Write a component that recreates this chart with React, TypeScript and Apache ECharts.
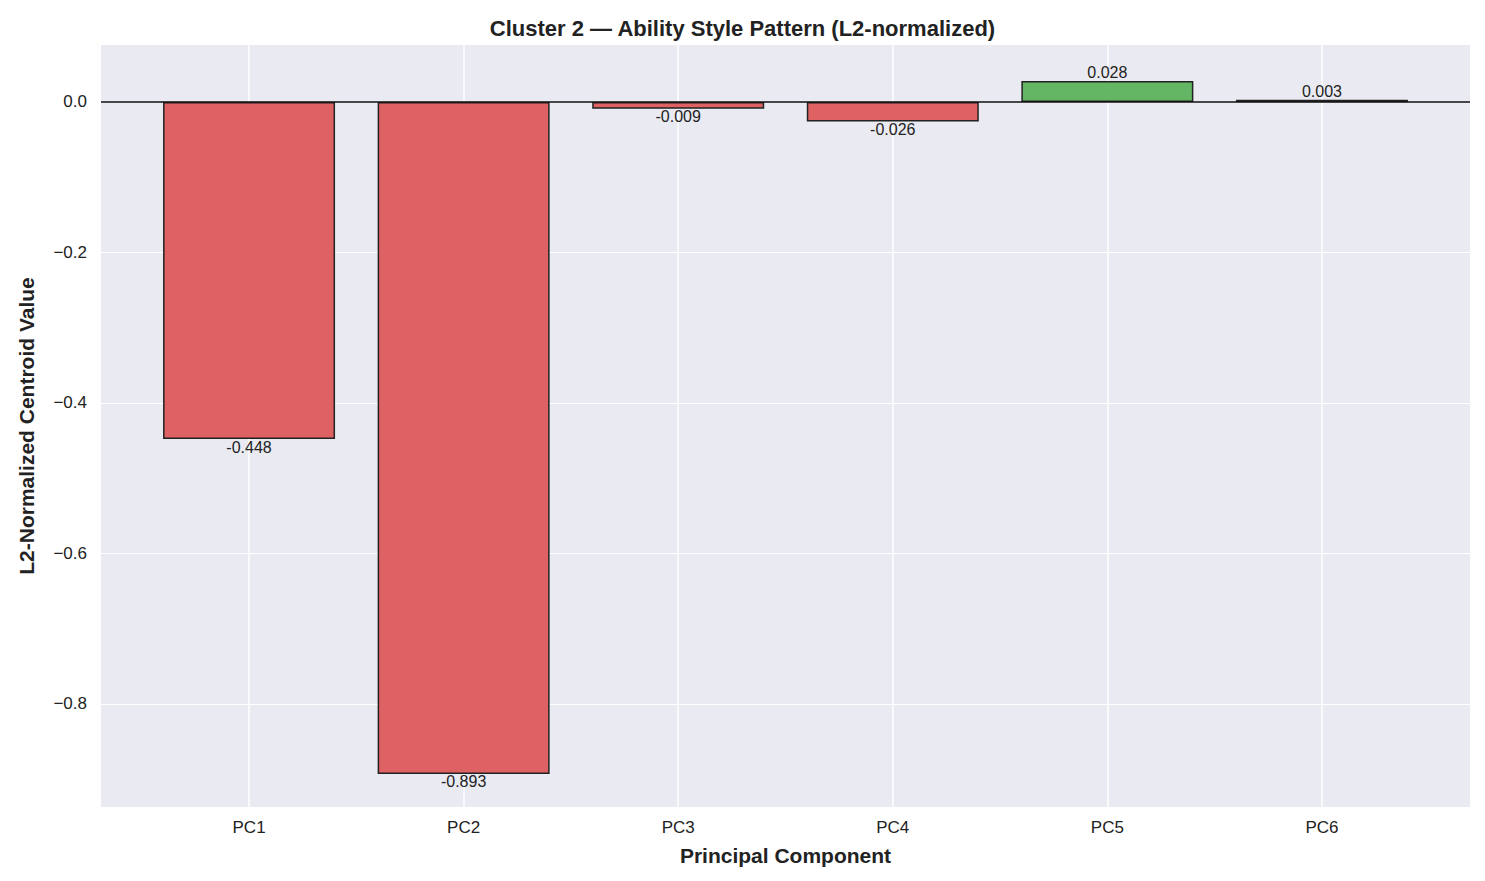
import React, { useEffect, useRef } from 'react';
import * as echarts from 'echarts';

const categories = ['PC1', 'PC2', 'PC3', 'PC4', 'PC5', 'PC6'];
const values = [-0.448, -0.893, -0.009, -0.026, 0.028, 0.003];
const yTicks = [-0.8, -0.6, -0.4, -0.2, 0.0];

const FONT = '"Liberation Sans", Arial, sans-serif';

const App: React.FC = () => {
    const chartRef = useRef<HTMLDivElement>(null);

    useEffect(() => {
        if (!chartRef.current) return;
        const chart = echarts.init(chartRef.current, null, { renderer: 'svg' });
        const xIdx = categories.map((_, i) => i);

        chart.setOption({
            animation: false,
            textStyle: { fontFamily: FONT },
            title: {
                text: 'Cluster 2 — Ability Style Pattern (L2-normalized)',
                left: 'center',
                top: 4,
                textStyle: { fontSize: 22, fontWeight: 'bold', color: '#222', fontFamily: FONT },
            },
            grid: { left: 87, right: 7, top: 37, bottom: 66, backgroundColor: '#eaeaf2', show: true, borderWidth: 0 },
            xAxis: {
                type: 'value',
                min: -0.69,
                max: 5.69,
                name: 'Principal Component',
                nameLocation: 'middle',
                nameGap: 38,
                nameTextStyle: { fontSize: 21, fontWeight: 'bold', color: '#222' },
                axisLine: { show: false },
                axisTick: { show: false },
                splitLine: { show: false },
                axisLabel: {
                    customValues: xIdx,
                    formatter: (v: number) => categories[Math.round(v)] ?? '',
                    fontSize: 17,
                    color: '#222',
                    margin: 12,
                },
            },
            yAxis: {
                type: 'value',
                min: -0.937,
                max: 0.0757,
                name: 'L2-Normalized Centroid Value',
                nameLocation: 'middle',
                nameGap: 64,
                nameTextStyle: { fontSize: 21, fontWeight: 'bold', color: '#222' },
                axisLine: { show: false },
                axisTick: { show: false },
                splitLine: { show: false },
                axisLabel: {
                    customValues: yTicks,
                    formatter: (v: number) => (v < 0 ? '−' + Math.abs(v).toFixed(1) : v.toFixed(1)),
                    fontSize: 17,
                    color: '#222',
                    margin: 14,
                },
            },
            series: [
                {
                    type: 'bar',
                    barWidth: 172,
                    data: values.map((v, i) => ({
                        value: [i, v],
                        itemStyle: { color: v < 0 ? '#de6163' : '#64b664' },
                        label: { position: v < 0 ? 'bottom' : 'top', distance: 0 },
                    })),
                    itemStyle: { borderColor: '#222', borderWidth: 1.5 },
                    label: {
                        show: true,
                        fontSize: 16,
                        color: '#222',
                        formatter: (p: { value: number[] }) => p.value[1].toFixed(3),
                    },
                    markLine: {
                        silent: true,
                        symbol: 'none',
                        label: { show: false },
                        z: 0,
                        data: [
                            ...xIdx.map(i => ({ xAxis: i, lineStyle: { color: '#fff', width: 1.5, type: 'solid' } })),
                            ...yTicks.filter(t => t !== 0).map(t => ({ yAxis: t, lineStyle: { color: '#fff', width: 1, type: 'solid' } })),
                        ],
                    },
                },
                {
                    type: 'line',
                    data: [],
                    markLine: {
                        silent: true,
                        symbol: 'none',
                        label: { show: false },
                        data: [{ yAxis: 0, lineStyle: { color: '#111', width: 1.5, type: 'solid' } }],
                    },
                },
            ],
        });

        return () => chart.dispose();
    }, []);

    return <div ref={chartRef} style={{ width: 1469, height: 865 }} />;
};

export default App;
